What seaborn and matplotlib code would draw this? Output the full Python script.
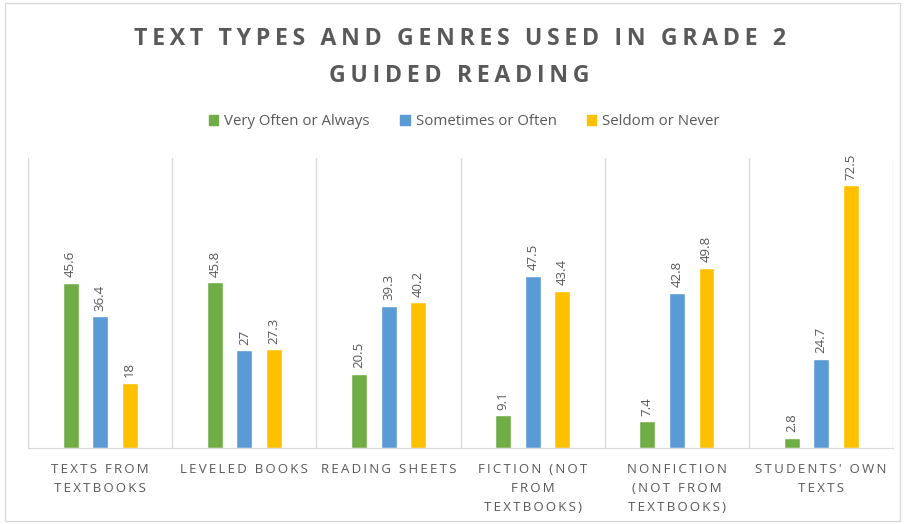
import pandas as pd
import matplotlib
matplotlib.use("Agg")
import matplotlib.pyplot as plt
import seaborn as sns
from matplotlib.patches import Rectangle

# chart values
categories = ["TEXTS FROM\nTEXTBOOKS", "LEVELED BOOKS", "READING SHEETS",
              "FICTION (NOT\nFROM\nTEXTBOOKS)", "NONFICTION\n(NOT FROM\nTEXTBOOKS)",
              "STUDENTS' OWN\nTEXTS"]
series = ["Very Often or Always", "Sometimes or Often", "Seldom or Never"]
very_often = [45.6, 45.8, 20.5, 9.1, 7.4, 2.8]
sometimes = [36.4, 27, 39.3, 47.5, 42.8, 24.7]
seldom = [18, 27.3, 40.2, 43.4, 49.8, 72.5]
colors = ["#70AD47", "#5B9BD5", "#FFC000"]
grey = "#595959"


def spaced(s, sep="\u200a"):
    # fake letter spacing, line by line
    return "\n".join(sep.join(line) for line in s.split("\n"))


rows = []
for cat, a, b, c in zip(categories, very_often, sometimes, seldom):
    for name, v in zip(series, (a, b, c)):
        rows.append({"category": cat, "series": name, "value": v})
df = pd.DataFrame(rows)

sns.set_style("white")
plt.rcParams["font.family"] = ["Open Sans", "DejaVu Sans"]

fig = plt.figure(figsize=(9.05, 5.24), dpi=100)
ax = fig.add_axes([0.031, 0.145, 0.956, 0.553])

sns.barplot(data=df, x="category", y="value", hue="series", palette=colors,
            width=0.615, gap=0.46, ax=ax, legend=False, saturation=1)

for cont in ax.containers:
    labels = [f"{v:g}" for v in cont.datavalues]
    ax.bar_label(cont, labels=labels, rotation=90, padding=4,
                 fontsize=9.5, color=grey)

ax.set_ylim(0, 80)
ax.set_xlim(-0.5, len(categories) - 0.5)
ax.set_yticks([])
ax.set_xlabel("")
ax.set_ylabel("")
ax.set_xticks(range(len(categories)))
ax.set_xticklabels([spaced(c, "\u2009") for c in categories], fontsize=9.5,
                   color=grey, linespacing=1.6)
ax.tick_params(axis="x", length=0, pad=11)

# category separators
for x in [i - 0.5 for i in range(len(categories) + 1)]:
    ax.axvline(x, color="#D9D9D9", lw=1, zorder=0)
for side in ["top", "left", "right"]:
    ax.spines[side].set_visible(False)
ax.spines["bottom"].set_color("#D9D9D9")

fig.text(0.508, 0.89, spaced("TEXT TYPES AND GENRES USED IN GRADE 2\nGUIDED READING", "\u2009"),
         ha="center", va="center", fontsize=16.7, fontweight="bold",
         color=grey, linespacing=1.75)

handles = [Rectangle((0, 0), 1, 1, color=c) for c in colors]
fig.legend(handles, series, loc="center", bbox_to_anchor=(0.513, 0.768), ncol=3,
           frameon=False, fontsize=10.8, handlelength=0.65, handleheight=0.65,
           handletextpad=0.4, columnspacing=2.0, labelcolor=grey)

fig.patches.append(Rectangle((0.005, 0.005), 0.99, 0.99, transform=fig.transFigure,
                             fill=False, edgecolor="#D9D9D9", lw=1))

fig.savefig("out.png", dpi=100)
